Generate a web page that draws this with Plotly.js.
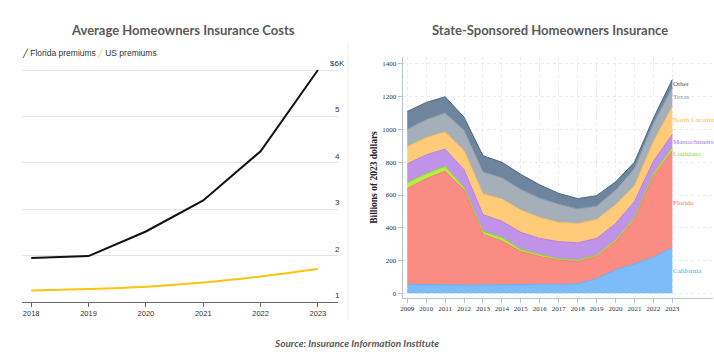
<!DOCTYPE html>
<html>
<head>
<meta charset="utf-8">
<script src="https://cdn.plot.ly/plotly-3.0.1.min.js"></script>
<style>
  html, body { margin: 0; padding: 0; background: #ffffff; }
  #chart { width: 714px; height: 364px; }
</style>
</head>
<body>
<div id="chart"></div>
<script>
// ---------- Left chart data (thousands of dollars) ----------
const costYears = [2018, 2019, 2020, 2021, 2022, 2023];
const floridaPremiums = [1.95, 1.99, 2.52, 3.19, 4.25, 6.0];
const usPremiums = [1.25, 1.28, 1.33, 1.42, 1.55, 1.71];
const costSeriesNames = ['Florida premiums', 'US premiums'];
const costTickVals = [1, 2, 3, 4, 5, 6];
const costTickText = ['1', '2', '3', '4', '5', '$6K'];

// ---------- Right chart data (billions of 2023 dollars) ----------
const stateYears = [2009, 2010, 2011, 2012, 2013, 2014, 2015, 2016, 2017, 2018, 2019, 2020, 2021, 2022, 2023];
const stateNames = ['California', 'Florida', 'Louisiana', 'Massachusetts', 'North Carolina', 'Texas', 'Other'];
const california    = [55, 55, 52, 50, 52, 55, 55, 55, 55, 58, 90, 143, 180, 220, 280];
const florida       = [585, 645, 693, 580, 308, 265, 200, 170, 147, 137, 135, 172, 270, 495, 590];
const louisiana     = [35, 30, 30, 15, 18, 20, 13, 11, 8, 7, 8, 10, 10, 15, 20];
const massachusetts = [115, 115, 105, 110, 102, 100, 104, 99, 105, 106, 102, 100, 100, 75, 80];
const northCarolina = [105, 105, 105, 115, 127, 135, 136, 127, 118, 117, 115, 115, 95, 120, 170];
const texas         = [105, 110, 115, 125, 133, 130, 126, 118, 110, 90, 82, 88, 105, 110, 115];
const other         = [110, 105, 100, 80, 100, 95, 92, 82, 67, 63, 64, 52, 40, 33, 50];
const stateSeries = [california, florida, louisiana, massachusetts, northCarolina, texas, other];
const stateTickVals = [0, 200, 400, 600, 800, 1000, 1200, 1400];

// ---------- Styles ----------
const fillColors = ['#7dbcf8', '#fb8c84', '#b2ee45', '#c193e8', '#ffcb78', '#a5afba', '#6f859d'];
const edgeColors = ['#6aaef0', '#f47b72', '#8fd820', '#b07ee0', '#f8bd60', '#8f9bab', '#4d6782'];
const labelColors = ['#4fa6f2', '#fa6b62', '#8ddc1c', '#ad72e2', '#ffb43c', '#8d99a8', '#3f5b7a'];
const labelYPos = [136, 551, 850, 924, 1058, 1198, 1278];  // label anchor heights (data units)

const traces = [];
traces.push({
  x: costYears, y: floridaPremiums, name: costSeriesNames[0], type: 'scatter', mode: 'lines',
  line: { color: '#111111', width: 2 }, xaxis: 'x', yaxis: 'y', showlegend: false, hoverinfo: 'skip'
});
traces.push({
  x: costYears, y: usPremiums, name: costSeriesNames[1], type: 'scatter', mode: 'lines',
  line: { color: '#ffc20e', width: 2, shape: 'spline', smoothing: 0.8 }, xaxis: 'x', yaxis: 'y', showlegend: false, hoverinfo: 'skip'
});
stateNames.forEach((nm, i) => {
  traces.push({
    x: stateYears, y: stateSeries[i], name: nm, type: 'scatter', mode: 'lines',
    stackgroup: 'states', fillcolor: fillColors[i],
    line: { color: edgeColors[i], width: 1 }, xaxis: 'x2', yaxis: 'y2', showlegend: false, hoverinfo: 'skip'
  });
});

const annotations = [];
// subplot titles
annotations.push({ text: 'Average Homeowners Insurance Costs', xref: 'paper', yref: 'paper',
  x: 183 / 714, y: 1 - 30 / 364, xanchor: 'center', yanchor: 'middle', showarrow: false,
  font: { family: 'Lato', size: 13, color: '#595959', weight: 700 } });
annotations.push({ text: 'State-Sponsored Homeowners Insurance', xref: 'paper', yref: 'paper',
  x: 550 / 714, y: 1 - 30 / 364, xanchor: 'center', yanchor: 'middle', showarrow: false,
  font: { family: 'Lato', size: 13, color: '#595959', weight: 700 } });
// source
annotations.push({ text: '<i>Source: Insurance Information Institute</i>', xref: 'paper', yref: 'paper',
  x: 356 / 714, y: 1 - 343 / 364, xanchor: 'center', yanchor: 'middle', showarrow: false,
  font: { family: 'Lato', size: 10, color: '#595959', weight: 700 } });
// left legend (manual)
const legendColors = ['#111111', '#ffc20e'];
const legendX = [20, 95];
costSeriesNames.forEach((nm, i) => {
  annotations.push({ text: '<span style="color:' + legendColors[i] + ';font-family:DejaVu Sans;font-size:8px;font-weight:bold">╱</span> ' + nm,
    xref: 'paper', yref: 'paper', x: legendX[i] / 714, y: 1 - 53 / 364, xanchor: 'left', yanchor: 'middle',
    showarrow: false, font: { family: 'Liberation Sans Narrow, Liberation Sans, Arial', size: 8.5, color: '#333333' } });
});
// left y tick labels above gridlines at the right end
costTickVals.forEach((v, i) => {
  annotations.push({ text: costTickText[i], xref: 'x domain', yref: 'y', x: 1, y: v,
    xanchor: 'center', yanchor: 'bottom', xshift: -1, yshift: 0, showarrow: false,
    font: { family: 'Liberation Sans, Arial', size: 8, color: '#333333' } });
});
// right series labels
stateNames.forEach((nm, i) => {
  annotations.push({ text: nm, xref: 'x2', yref: 'y2', x: stateYears[stateYears.length - 1], y: labelYPos[i],
    xanchor: 'left', yanchor: 'middle', xshift: -1.5, showarrow: false,
    font: { family: 'Liberation Serif, Times New Roman', size: 7, color: labelColors[i] } });
});

const layout = {
  width: 714, height: 364,
  margin: { l: 0, r: 0, t: 0, b: 0 },
  paper_bgcolor: '#ffffff', plot_bgcolor: 'rgba(0,0,0,0)',
  showlegend: false,
  xaxis: {
    domain: [22 / 714, 338 / 714], range: [2017.84, 2023.35],
    tickvals: costYears, ticktext: costYears.map(String), tickangle: 0,
    showgrid: false, zeroline: false, showline: true, linecolor: '#666666', linewidth: 1,
    ticks: 'outside', ticklen: 4, tickcolor: '#666666',
    tickfont: { family: 'Liberation Sans, Arial', size: 7.5, color: '#333333' }, fixedrange: true
  },
  yaxis: {
    domain: [(364 - 302) / 364, (364 - 67.7) / 364], range: [1, 6.05],
    tickvals: costTickVals.slice(1), showticklabels: false,
    showgrid: true, gridcolor: '#e4e4e4', gridwidth: 1, zeroline: false, showline: false, ticks: '', fixedrange: true
  },
  xaxis2: {
    anchor: 'y2', domain: [402.7 / 714, 713 / 714], range: [2008.76, 2025.15],
    tickvals: stateYears, ticktext: stateYears.map(String), tickangle: 0,
    showgrid: true, gridcolor: '#e8eaf2', griddash: 'dot', gridwidth: 1,
    zeroline: false, showline: true, linecolor: '#b9c0d2', linewidth: 1,
    ticks: 'outside', ticklen: 4, tickcolor: '#b9c0d2',
    tickfont: { family: 'Liberation Serif, Times New Roman', size: 7, color: '#333333' }, fixedrange: true
  },
  yaxis2: {
    anchor: 'x2', domain: [(364 - 298) / 364, (364 - 57) / 364], range: [-28.7, 1442.6],
    tickvals: stateTickVals, ticktext: stateTickVals.map(String),
    showgrid: true, gridcolor: '#e8eaf2', griddash: 'dot', gridwidth: 1,
    zeroline: false, showline: true, linecolor: '#b9c0d2', linewidth: 1,
    ticks: 'outside', ticklen: 4, tickcolor: '#b9c0d2',
    tickfont: { family: 'Liberation Serif, Times New Roman', size: 7, color: '#333333' },
    title: { text: '<b>Billions of 2023 dollars</b>', standoff: 2,
      font: { family: 'Liberation Serif, Times New Roman', size: 9.5, color: '#222222' } },
    automargin: false, fixedrange: true
  },
  annotations: annotations,
  shapes: [
    { type: 'line', xref: 'paper', yref: 'paper', x0: 348 / 714, x1: 348 / 714,
      y0: 1 - 320 / 364, y1: 1 - 43 / 364, line: { color: '#ededed', width: 1 } }
  ]
};

Plotly.newPlot('chart', traces, layout, { staticPlot: true, displayModeBar: false });
</script>
</body>
</html>
